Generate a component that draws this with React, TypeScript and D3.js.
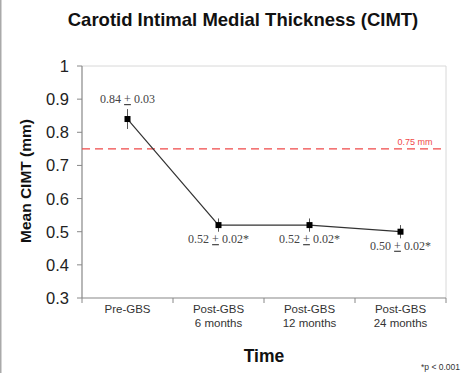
import React from "react";
import * as d3 from "d3";

const categories = [["Pre-GBS"], ["Post-GBS", "6 months"], ["Post-GBS", "12 months"], ["Post-GBS", "24 months"]];
const means = [0.84, 0.52, 0.52, 0.5];
const errors = [0.03, 0.02, 0.02, 0.02];
const valueLabels = ["0.84", "0.52", "0.52", "0.50"];
const errorLabels = ["0.03", "0.02*", "0.02*", "0.02*"];
const yTicks = [0.3, 0.4, 0.5, 0.6, 0.7, 0.8, 0.9, 1];
const threshold = 0.75;

const W = 469, H = 373;
const left = 82, right = 446, top = 66, bottom = 298;

export default function App() {
  const x = d3.scaleBand<number>().domain(d3.range(categories.length)).range([left, right]);
  const y = d3.scaleLinear().domain([0.3, 1]).range([bottom, top]);
  const line = d3.line<number>().x((_, i) => x(i)! + x.bandwidth() / 2).y((d) => y(d));
  const sans = "'Liberation Sans', Arial, sans-serif";
  const serif = "'Liberation Serif', 'Times New Roman', serif";
  return (
    <svg width={W} height={H} style={{ position: "absolute", left: 0, top: 0, background: "#fff" }}>
      <rect x={0} y={0} width={1.5} height={H} fill="#aaa" />
      <text x={243} y={26} textAnchor="middle" style={{ fontFamily: sans }} fontWeight="bold" fontSize={18.5} fill="#111">
        Carotid Intimal Medial Thickness (CIMT)
      </text>
      {/* plot border */}
      <line x1={left} x2={right} y1={top} y2={top} stroke="#d8d8d8" />
      <line x1={right} x2={right} y1={top} y2={bottom} stroke="#d8d8d8" />
      {/* y axis */}
      <line x1={left} x2={left} y1={top} y2={bottom} stroke="#888" strokeWidth={1.2} />
      {yTicks.map((t) => (
        <g key={t}>
          <line x1={left - 5} x2={left} y1={y(t)} y2={y(t)} stroke="#888" />
          <text x={69} y={y(t) + 6} textAnchor="end" style={{ fontFamily: sans }} fontSize={16.5} fill="#222">
            {String(t)}
          </text>
        </g>
      ))}
      {/* x axis */}
      <line x1={left} x2={right} y1={bottom} y2={bottom} stroke="#888" strokeWidth={1.2} />
      {d3.range(categories.length + 1).map((i) => {
        const xx = i < categories.length ? x(i)! : right;
        return <line key={i} x1={xx} x2={xx} y1={bottom} y2={bottom + 5} stroke="#888" />;
      })}
      {categories.map((c, i) => (
        <text key={i} textAnchor="middle" style={{ fontFamily: sans }} fontSize={11.5} fill="#333">
          {c.map((s, j) => (
            <tspan key={j} x={x(i)! + x.bandwidth() / 2} y={313 + j * 14}>
              {s}
            </tspan>
          ))}
        </text>
      ))}
      <text x={264} y={362} textAnchor="middle" style={{ fontFamily: sans }} fontWeight="bold" fontSize={17.5} fill="#111">
        Time
      </text>
      <text
        transform={`translate(31,181) rotate(-90)`}
        textAnchor="middle"
        style={{ fontFamily: sans }}
        fontWeight="bold"
        fontSize={15.5}
        fill="#111"
      >
        Mean CIMT (mm)
      </text>
      {/* threshold */}
      <line x1={left} x2={right} y1={y(threshold)} y2={y(threshold)} stroke="#f04848" strokeWidth={1.2} strokeDasharray="8,5" />
      <text x={415} y={145} textAnchor="middle" style={{ fontFamily: sans }} fontSize={9} fill="#f04848">
        0.75 mm
      </text>
      {/* data */}
      <path d={line(means) ?? ""} fill="none" stroke="#333" strokeWidth={1.2} />
      {means.map((m, i) => {
        const cx = x(i)! + x.bandwidth() / 2;
        return (
          <g key={i}>
            <line x1={cx} x2={cx} y1={y(m + errors[i])} y2={y(m - errors[i])} stroke="#555" strokeWidth={1} />
            <rect x={cx - 3} y={y(m) - 3} width={6} height={6} fill="#000" />
          </g>
        );
      })}
      {means.map((m, i) => {
        const cx = x(i)! + x.bandwidth() / 2;
        const ly = i === 0 ? y(m) - 16 : y(m) + 18;
        return (
          <text key={i} x={cx} y={ly} textAnchor="middle" style={{ fontFamily: serif }} fontSize={12} fill="#444">
            {valueLabels[i] + " "}
            <tspan textDecoration="underline">+</tspan>
            {" " + errorLabels[i]}
          </text>
        );
      })}
      <text x={460} y={370} textAnchor="end" style={{ fontFamily: sans }} fontSize={8.5} fill="#333">
        *p &lt; 0.001
      </text>
    </svg>
  );
}
